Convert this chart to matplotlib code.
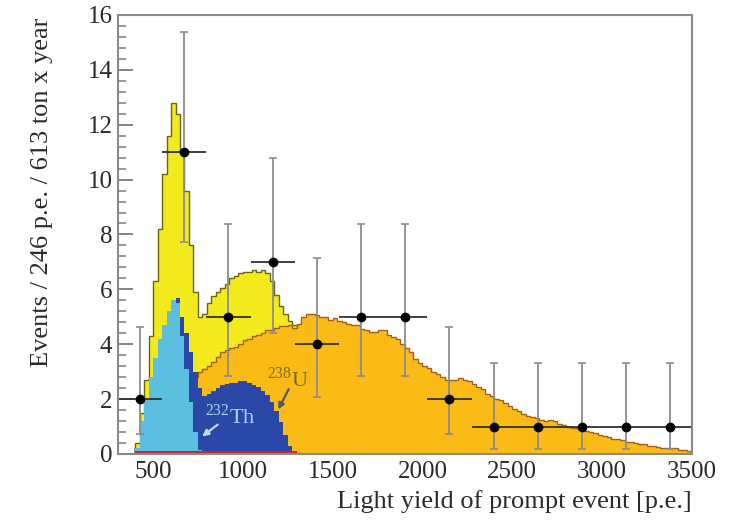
import numpy as np
import matplotlib
matplotlib.use('Agg')
import matplotlib.pyplot as plt
from matplotlib.ticker import MultipleLocator

plt.rcParams['font.family'] = ['Liberation Serif', 'DejaVu Serif']
plt.rcParams['mathtext.fontset'] = 'custom'
plt.rcParams['mathtext.rm'] = 'Liberation Serif'

# --- histogram contents (25 p.e. bins) ---
BIN = 25

total_start = 400
total = [0.4, 1.5, 2.7, 4.3, 6.3, 8.2, 10.2, 11.6, 12.8, 12.4, 11.0, 9.6,
         7.6, 5.9, 5.0, 5.1, 5.5, 5.75, 5.9, 6.05, 6.2, 6.4, 6.5, 6.6,
         6.65, 6.65, 6.7, 6.65, 6.7, 6.6, 6.3, 5.8, 5.4, 5.1, 4.85, 4.7]

u238_start = 700
u238 = [2.7, 2.8, 3.0, 3.1, 3.2, 3.35, 3.55, 3.7, 3.8, 3.85, 3.9, 4.0,
        4.15, 4.2, 4.3, 4.35, 4.4, 4.5, 4.5, 4.6, 4.65, 4.65, 4.7, 4.6,
        4.75, 5.0, 5.1, 5.1, 5.05, 5.0, 5.0, 4.9, 4.95, 4.85, 4.8, 4.75,
        4.7, 4.7, 4.55, 4.5, 4.45, 4.45, 4.5, 4.5, 4.35, 4.25, 4.2, 4.0,
        3.85, 3.7, 3.45, 3.3, 3.2, 3.15, 3.0, 2.9, 2.8, 2.7, 2.7, 2.7,
        2.75, 2.7, 2.65, 2.55, 2.45, 2.35, 2.2, 2.1, 2.0, 1.95, 1.85, 1.75,
        1.65, 1.55, 1.45, 1.4, 1.35, 1.3, 1.25, 1.2, 1.25, 1.2, 1.1, 1.05,
        1.0, 0.95, 0.95, 0.9, 0.85, 0.8, 0.75, 0.7, 0.65, 0.6, 0.55, 0.55,
        0.5, 0.45, 0.45, 0.4, 0.35, 0.35, 0.3, 0.3, 0.25, 0.2, 0.2, 0.2,
        0.2, 0.15, 0.15, 0.1]

th232_start = 400
th232 = [0.2, 1.2, 2.0, 2.8, 3.5, 4.2, 4.7, 5.2, 5.6, 5.7, 5.0, 4.4,
         3.7, 3.0, 2.4, 2.1, 2.2, 2.3, 2.4, 2.5, 2.55, 2.6, 2.6, 2.65,
         2.65, 2.6, 2.5, 2.45, 2.3, 2.15, 1.9, 1.55, 1.15, 0.7, 0.3, 0.05]

peak_start = 400
peak = [0.2, 1.2, 2.0, 2.8, 3.5, 4.2, 4.7, 5.2, 5.6, 5.5, 4.3, 3.1,
        1.9, 0.8, 0.15]

red_start = 400
red_bin = 100
red = [0.1, 0.1, 0.1, 0.1, 0.1, 0.1, 0.1, 0.1, 0.1]

# --- data points ---
data_x = [428, 674, 920, 1166, 1412, 1658, 1904, 2150, 2396, 2642, 2888, 3134, 3380]
data_y = [2, 11, 5, 7, 4, 5, 5, 2, 1, 1, 1, 1, 1]
err_lo = [1.29, 3.29, 2.16, 2.58, 1.91, 2.16, 2.16, 1.29, 0.83, 0.83, 0.83, 0.83, 0.83]
err_hi = [2.64, 4.38, 3.38, 3.77, 3.16, 3.38, 3.38, 2.64, 2.30, 2.30, 2.30, 2.30, 2.30]
half_bin = 123


def edges(start, n, width=BIN):
    return start + width * np.arange(n + 1)


c_yellow = '#f2ea1c'
c_orange = '#fbbb16'
c_blue = '#2a48a8'
c_cyan = '#5cbfe0'
c_red = '#cc2233'

fig = plt.figure(figsize=(7.4, 5.26), dpi=100)
ax = fig.add_axes([0.1595, 0.137, 0.7755, 0.8345])

e = edges(total_start, len(total))
ax.stairs(total, e, fill=True, color=c_yellow, zorder=1)
ax.stairs(total, e, color='#6b6410', lw=1.0, zorder=1.1)

e = edges(u238_start, len(u238))
ax.stairs(u238, e, fill=True, color=c_orange, zorder=2)
ax.stairs(u238, e, color='#a2601c', lw=1.0, zorder=2.1)

ax.stairs(th232, edges(th232_start, len(th232)), fill=True, color=c_blue, zorder=3)
ax.stairs(peak, edges(peak_start, len(peak)), fill=True, color=c_cyan, zorder=4)
ax.stairs(red, edges(red_start, len(red), red_bin), fill=True, color=c_red, zorder=4.5)

# error bars: grey vertical, dark horizontal
ax.errorbar(data_x, data_y, yerr=[err_lo, err_hi], fmt='none', ecolor='#8c8c8c',
            elinewidth=1.3, capsize=3, capthick=1.2, zorder=5)
ax.errorbar(data_x, data_y, xerr=half_bin, fmt='o', color='black', ecolor='#303030',
            elinewidth=1.3, ms=6, capsize=0, zorder=6)

# labels on the components
ax.text(789, 1.35, r'$^{232}$Th', color='#b0d0f0', fontsize=16, ha='left', va='center', zorder=7)
ax.annotate('', xy=(761, 0.58), xytext=(872, 1.13),
            arrowprops=dict(arrowstyle='-|>', color='#c8dcf0', lw=1.6, mutation_scale=9), zorder=7)
ax.text(1134, 2.7, r'$^{238}$U', color='#7d6a2a', fontsize=16, ha='left', va='center', zorder=7)
ax.annotate('', xy=(1190, 1.53), xytext=(1262, 2.45),
            arrowprops=dict(arrowstyle='-|>', color='#505868', lw=1.6, mutation_scale=9), zorder=7)

ax.set_xlim(305, 3500)
ax.set_ylim(0, 16)
ax.xaxis.set_major_locator(MultipleLocator(500))
ax.xaxis.set_minor_locator(MultipleLocator(100))
ax.yaxis.set_major_locator(MultipleLocator(2))
ax.yaxis.set_minor_locator(MultipleLocator(0.4))

ax.tick_params(which='both', direction='in', top=False, right=False, colors='#7a7a7a',
               labelcolor='#2a2a2a', labelsize=18)
ax.tick_params(axis='y', which='major', length=11, width=1.3, pad=4)
ax.tick_params(axis='y', which='minor', length=6, width=1.1)
ax.tick_params(axis='x', which='major', length=7, width=1.3, pad=5)
ax.tick_params(axis='x', which='minor', length=4, width=1.1)
for side in ax.spines.values():
    side.set_color('#8a8a8a')
    side.set_linewidth(1.5)
    side.set_zorder(8)

ax.set_xlabel('Light yield of prompt event [p.e.]', fontsize=19, color='#2a2a2a', loc='right')
ax.xaxis.set_label_coords(1.0, -0.082)
ax.set_ylabel('Events / 246 p.e. / 613 ton x year', fontsize=19, color='#2a2a2a', loc='top')
ax.yaxis.set_label_coords(-0.113, 0.993)

fig.savefig('out.png', dpi=100)
